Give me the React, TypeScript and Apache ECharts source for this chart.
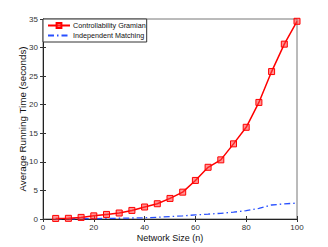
import React, { useEffect, useRef } from "react";
import * as echarts from "echarts";

const networkSize = [5, 10, 15, 20, 25, 30, 35, 40, 45, 50, 55, 60, 65, 70, 75, 80, 85, 90, 95, 100];
const gramian = [0.1, 0.12, 0.28, 0.55, 0.8, 1.05, 1.5, 2.1, 2.67, 3.6, 4.7, 6.75, 9.05, 10.35, 13.15, 16.05, 20.4, 25.8, 30.6, 34.6];
const matching = [0.02, 0.03, 0.05, 0.07, 0.1, 0.13, 0.17, 0.22, 0.3, 0.42, 0.55, 0.72, 0.85, 1.0, 1.2, 1.45, 1.85, 2.45, 2.65, 2.78];
const seriesNames = ["Controllability Gramian", "Independent Matching"];

export default function App() {
  const ref = useRef<HTMLDivElement>(null);
  useEffect(() => {
    const chart = echarts.init(ref.current!, null, { renderer: "svg" });
    const font = "'Liberation Sans', sans-serif";
    const tickInside = { show: true, inside: true, length: 3, lineStyle: { color: "#333", width: 1 } };
    chart.setOption({
      animation: false,
      backgroundColor: "#fff",
      grid: { left: 43, top: 19, right: 31, bottom: 28, show: true, borderColor: "#777", borderWidth: 1 },
      legend: {
        left: 43,
        top: 19,
        orient: "vertical",
        backgroundColor: "#fff",
        borderColor: "#333",
        borderWidth: 1,
        borderRadius: 0,
        padding: [3, 1, 3, 4],
        itemGap: 3,
        itemWidth: 22,
        itemHeight: 6,
        textStyle: { fontSize: 7.2, color: "#111", fontFamily: font, padding: [0, 0, 0, -2] },
        data: [
          { name: seriesNames[0] },
          { name: seriesNames[1], itemStyle: { opacity: 0 } },
        ],
      },
      xAxis: [
        {
          type: "value",
          min: 0,
          max: 100,
          interval: 20,
          name: "Network Size (n)",
          nameLocation: "middle",
          nameGap: 14,
          nameMoveOverlap: false,
          nameTextStyle: { fontSize: 9, color: "#111", fontFamily: font },
          axisLine: { show: true, lineStyle: { color: "#222" } },
          axisTick: tickInside,
          axisLabel: { fontSize: 8, color: "#333", fontFamily: font, margin: 4 },
          splitLine: { show: false },
        },
        {
          type: "value",
          position: "top",
          min: 0,
          max: 100,
          interval: 20,
          axisLine: { show: false },
          axisTick: tickInside,
          axisLabel: { show: false },
          splitLine: { show: false },
        },
      ],
      yAxis: [
        {
          type: "value",
          min: 0,
          max: 35,
          interval: 5,
          name: "Average Running Time (seconds)",
          nameLocation: "middle",
          nameGap: 16,
          nameMoveOverlap: false,
          nameTextStyle: { fontSize: 9.8, color: "#111", fontFamily: font },
          axisLine: { show: true, lineStyle: { color: "#222" } },
          axisTick: tickInside,
          axisLabel: { fontSize: 8, color: "#333", fontFamily: font, margin: 5 },
          splitLine: { show: false },
        },
        {
          type: "value",
          position: "right",
          min: 0,
          max: 35,
          interval: 5,
          axisLine: { show: false },
          axisTick: tickInside,
          axisLabel: { show: false },
          splitLine: { show: false },
        },
      ],
      series: [
        {
          name: seriesNames[0],
          type: "line",
          data: networkSize.map((n, i) => [n, gramian[i]]),
          symbol: "rect",
          symbolSize: 6,
          showSymbol: true,
          lineStyle: { color: "#ff0000", width: 1.5 },
          itemStyle: { color: "rgba(255,60,60,0.55)", borderColor: "#ff0000", borderWidth: 1 },
          z: 3,
        },
        {
          name: seriesNames[1],
          type: "line",
          data: networkSize.map((n, i) => [n, matching[i]]),
          symbol: "none",
          lineStyle: { color: "#2850ff", width: 1.3, type: [6, 3, 1.5, 3] },
          itemStyle: { color: "#2850ff" },
          z: 2,
        },
      ],
    });
    return () => chart.dispose();
  }, []);
  return <div ref={ref} style={{ width: 328, height: 247, position: "absolute", left: 0, top: 0 }} />;
}
